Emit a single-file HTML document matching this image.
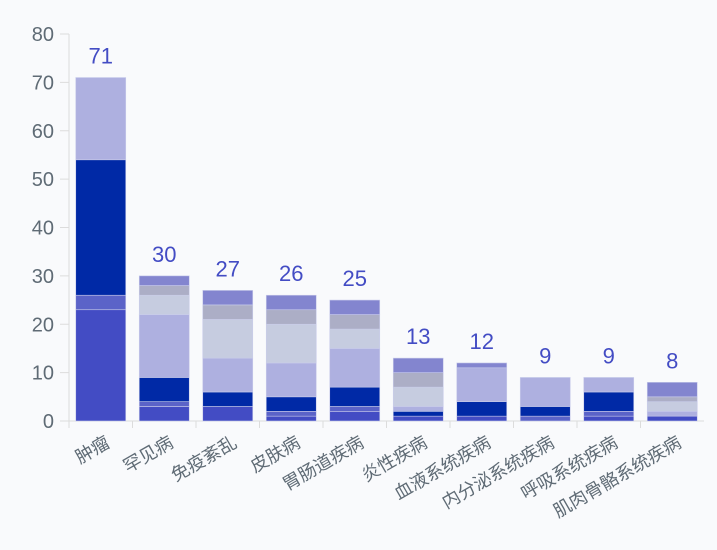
<!DOCTYPE html>
<html><head><meta charset="utf-8"><style>
html,body{margin:0;padding:0;background:#F9FAFC;}
svg{display:block;font-family:"Liberation Sans","Noto Sans CJK SC",sans-serif;}
</style></head><body>
<svg id="chart" width="717" height="550" viewBox="0 0 717 550"></svg>
<script>
const categories=["肿瘤","罕见病","免疫紊乱","皮肤病","胃肠道疾病","炎性疾病","血液系统疾病","内分泌系统疾病","呼吸系统疾病","肌肉骨骼系统疾病"];
const s1=[23,3,3,1,2,1,1,0,1,1];
const s2=[3,1,0,1,1,0,0,1,1,0];
const s3=[28,5,3,3,4,1,3,2,4,0];
const s4=[17,13,7,7,8,1,7,6,3,1];
const s5=[0,4,8,8,4,4,0,0,0,2];
const s6=[0,2,3,3,3,3,0,0,0,1];
const s7=[0,2,3,3,3,3,1,0,0,3];
const yTicks=[0,10,20,30,40,50,60,70,80];
const series=[s1,s2,s3,s4,s5,s6,s7];
const colors=["#434CC4","#5B63C8","#0029A6","#AEB0E0","#C6CCE0","#ACAEC6","#8385CF"];
const NS="http://www.w3.org/2000/svg";
const svg=document.getElementById('chart');
const x0=69,x1=704,y0=421,yTop=34,yMax=80;
const band=(x1-x0)/categories.length;
const barW=50;
function yS(v){return y0-(v/yMax)*(y0-yTop);}
function xC(i){return x0+band*(i+0.5);}
function mk(t,a){const e=document.createElementNS(NS,t);for(const k in a)e.setAttribute(k,a[k]);svg.appendChild(e);return e;}
// y axis
let ax=mk('line',{x1:x0,y1:yTop,x2:x0,y2:y0,stroke:'#DCDCDC','stroke-width':1});


yTicks.forEach(t=>{
  const tk=mk('line',{x1:x0-9,y1:yS(t),x2:x0,y2:yS(t),stroke:'#DCDCDC'});
  
  
  const tx=mk('text',{x:x0-15,y:yS(t)+7,'text-anchor':'end','font-size':20,fill:'#5F6B75'});
  tx.textContent=t;
  
  
});
// x axis
let xa=mk('line',{x1:x0-9,y1:y0,x2:x1,y2:y0,stroke:'#DCDCDC','stroke-width':1});


categories.forEach((c,i)=>{
  const tk=mk('line',{x1:x0+band*i,y1:y0,x2:x0+band*i,y2:y0+7,stroke:'#DCDCDC'});
  
  
  let cum=0;
  series.forEach((s,si)=>{
    const v=s[i];
    if(v>0){
      const r=mk('rect',{x:xC(i)-barW/2,y:yS(cum+v),width:barW,height:yS(cum)-yS(cum+v),fill:colors[si],stroke:'#C9CCEA','stroke-width':0.6});
      
      
    }
    cum+=v;
  });
  const lb=mk('text',{x:xC(i),y:yS(cum)-14,'text-anchor':'middle','font-size':22,fill:'#434CC4'});
  lb.textContent=cum;
  
  
  const cx=xC(i)+4,cy=y0+14;
  const xl=mk('text',{x:cx,y:cy,'text-anchor':'end','font-size':18,fill:'#5F6B75',transform:`rotate(-30 ${cx} ${cy})`,'dominant-baseline':'hanging'});
  xl.textContent=c;
  
  
});
</script>
</body></html>
